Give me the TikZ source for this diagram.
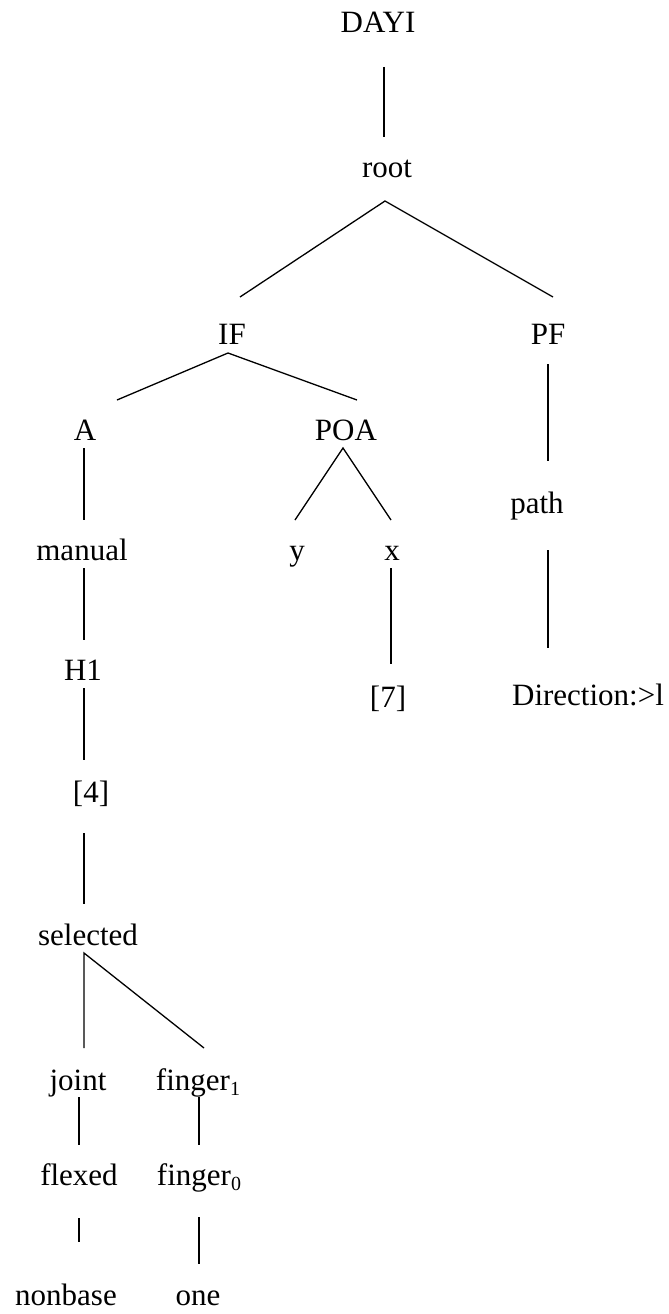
\documentclass[tikz,border=0pt]{standalone}
\usepackage{fontspec}
\setmainfont{Liberation Serif}
\usetikzlibrary{calc}
\newcommand{\subidx}[1]{\raisebox{-5pt}{\fontsize{20}{20}\selectfont #1}}
\begin{document}
\begin{tikzpicture}[x=1pt,y=-1pt,
  lbl/.style={anchor=base,inner sep=0pt,outer sep=0pt,font=\fontsize{31}{37}\selectfont},
  edge/.style={line width=1.3pt,line cap=butt}]
\useasboundingbox (0,0) rectangle (669,1314);
% nodes
\node[lbl] (dayi) at (378,33) {DAYI};
\node[lbl] (root) at (387,177) {root};
\node[lbl] (IF) at (232,344) {IF};
\node[lbl] (PF) at (548,344) {PF};
\node[lbl] (A) at (85,440) {A};
\node[lbl] (POA) at (346,440) {POA};
\node[lbl] (manual) at (82,560) {manual};
\node[lbl] (ny) at (297,560) {y};
\node[lbl] (nx) at (392,560) {x};
\node[lbl] (path) at (537,513) {path};
\node[lbl] (H1) at (83,680) {H1};
\node[lbl] (sev) at (388,707) {[7]};
\node[lbl] (dir) at (588,705) {Direction:>l};
\node[lbl] (four) at (91,802) {[4]};
\node[lbl] (selected) at (88,945) {selected};
\node[lbl] (joint) at (78,1090) {joint};
\node[lbl] (fone) at (198,1090) {finger\subidx{1}};
\node[lbl] (flexed) at (79,1185) {flexed};
\node[lbl] (fzero) at (199,1185) {finger\subidx{0}};
\node[lbl] (nonbase) at (66,1305) {nonbase};
\node[lbl] (one) at (198,1305) {one};
% connectors
\draw[edge] ($(dayi.base)+(6,34)$) -- ($(root.base)+(-3,-40)$);
\draw[edge] ($(IF.base)+(8,-47)$) -- ($(root.base)+(-2,24)$) -- ($(PF.base)+(5,-47)$);
\draw[edge] ($(PF.base)+(0,20)$) -- ($(path.base)+(11,-52)$);
\draw[edge] ($(A.base)+(32,-40)$) -- ($(IF.base)+(-4,9)$) -- ($(POA.base)+(11,-40)$);
\draw[edge] ($(A.base)+(-1,8)$) -- ($(manual.base)+(2,-40)$);
\draw[edge] ($(ny.base)+(-2,-40)$) -- ($(POA.base)+(-3,8)$) -- ($(nx.base)+(-1,-40)$);
\draw[edge] ($(manual.base)+(2,8)$) -- ($(H1.base)+(1,-40)$);
\draw[edge] ($(nx.base)+(-1,8)$) -- ($(sev.base)+(3,-43)$);
\draw[edge] ($(path.base)+(11,37)$) -- ($(dir.base)+(-40,-57)$);
\draw[edge] ($(H1.base)+(1,8)$) -- ($(four.base)+(-7,-42)$);
\draw[edge] ($(four.base)+(-7,31)$) -- ($(selected.base)+(-4,-41)$);
\draw[edge] ($(joint.base)+(6,-42)$) -- ($(selected.base)+(-4,8)$) -- ($(fone.base)+(6,-42)$);
\draw[edge] ($(joint.base)+(1,7)$) -- ($(flexed.base)+(0,-40)$);
\draw[edge] ($(fone.base)+(1,7)$) -- ($(fzero.base)+(0,-40)$);
\draw[edge] ($(flexed.base)+(0,33)$) -- ($(nonbase.base)+(13,-63)$);
\draw[edge] ($(fzero.base)+(0,32)$) -- ($(one.base)+(1,-41)$);
\end{tikzpicture}
\end{document}
